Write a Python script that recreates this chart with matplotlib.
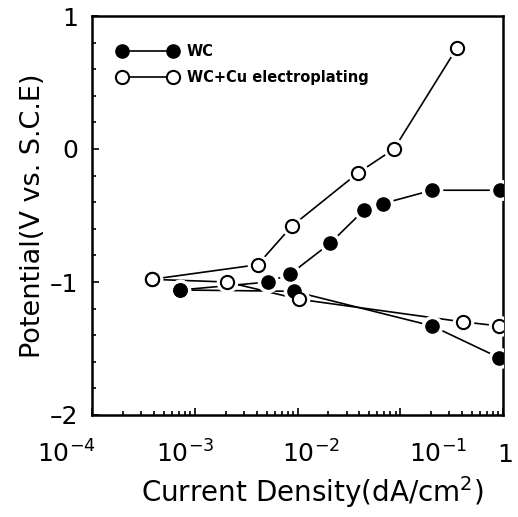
import numpy as np
import matplotlib
matplotlib.use("Agg")
import matplotlib.pyplot as plt
from matplotlib.lines import Line2D
from matplotlib.transforms import ScaledTranslation

# WC (filled circles)
wc_anodic_x = [7.2e-4, 5.2e-3, 8.5e-3, 0.0207, 0.0443, 0.068, 0.204, 0.94]
wc_anodic_y = [-1.06, -1.00, -0.94, -0.71, -0.46, -0.41, -0.31, -0.31]
wc_cathodic_x = [7.2e-4, 9.2e-3, 0.204, 0.92]
wc_cathodic_y = [-1.06, -1.07, -1.33, -1.57]

# WC+Cu electroplating (open circles)
cu_anodic_x = [3.8e-4, 4.1e-3, 8.8e-3, 0.0388, 0.0869, 0.356]
cu_anodic_y = [-0.98, -0.87, -0.58, -0.18, 0.0, 0.76]
cu_cathodic_x = [3.8e-4, 2.06e-3, 0.0104, 0.408, 0.91]
cu_cathodic_y = [-0.98, -1.00, -1.13, -1.30, -1.33]

xtick_vals = [1e-4, 1e-3, 1e-2, 1e-1, 1]
xtick_labels = ['$10^{-4}$', '$10^{-3}$', '$10^{-2}$', '$10^{-1}$', '1']
ytick_vals = [-2, -1, 0, 1]
ytick_labels = ['\u20132', '\u20131', '0', '1']

plt.rcParams['font.family'] = 'DejaVu Sans'
plt.rcParams['mathtext.fontset'] = 'dejavusans'

fig = plt.figure(figsize=(5.18, 5.17), dpi=100)
ax = fig.add_axes([92/518, 1-415/517, (503-92)/518, (415-16)/517])

lw = 1.2
ms = 9.5
series = [(wc_anodic_x, wc_anodic_y), (wc_cathodic_x, wc_cathodic_y),
          (cu_anodic_x, cu_anodic_y), (cu_cathodic_x, cu_cathodic_y)]
for xs, ys in series:
    ax.plot(xs, ys, color='black', lw=lw, zorder=2)

# white halos so lines stop short of the markers
for xs, ys in series:
    ax.plot(xs, ys, ls='none', marker='o', ms=ms+6, mfc='white', mec='none', zorder=3)

ax.plot(wc_anodic_x + wc_cathodic_x, wc_anodic_y + wc_cathodic_y, ls='none',
        marker='o', ms=ms, mfc='black', mec='black', zorder=4)
ax.plot(cu_anodic_x + cu_cathodic_x, cu_anodic_y + cu_cathodic_y, ls='none',
        marker='o', ms=ms, mfc='white', mec='black', mew=1.5, zorder=4)

ax.set_xscale('log')
ax.set_xlim(1e-4, 1)
ax.set_ylim(-2, 1)

ax.set_xticks(xtick_vals)
ax.set_xticklabels(xtick_labels)
ax.set_yticks(ytick_vals)
ax.set_yticklabels(ytick_labels)
ax.set_yticks(np.arange(-2, 1.01, 0.2), minor=True)

ax.tick_params(axis='both', which='both', direction='in', top=False, right=False,
               labelsize=18, width=1.2)
ax.tick_params(axis='x', which='major', length=5, pad=18)
ax.tick_params(axis='x', which='minor', length=3)
ax.tick_params(axis='y', which='major', length=5, pad=10)
ax.tick_params(axis='y', which='minor', length=3)
for s in ax.spines.values():
    s.set_linewidth(1.8)

# tick labels in the scan sit a little off their ticks
shifts = [(-26, 0), (-10, 0), (14, 0), (38, 0), (2, -3)]
for lab, (dx, dy) in zip(ax.get_xticklabels(), shifts):
    lab.set_transform(lab.get_transform() + ScaledTranslation(dx/100, dy/100, fig.dpi_scale_trans))

ax.set_xlabel('Current Density(dA/cm$^2$)', fontsize=20)
ax.set_ylabel('Potential(V vs. S.C.E)', fontsize=19.5)
ax.xaxis.set_label_coords((312-92)/411, -0.148)
ax.yaxis.set_label_coords(-0.112, 0.5)

handles = [
    Line2D([], [], color='black', lw=lw, marker='o', ms=ms, mfc='black', mec='black'),
    Line2D([], [], color='black', lw=lw, marker='o', ms=ms, mfc='white', mec='black', mew=1.5),
]
ax.legend(handles, ['WC', 'WC+Cu electroplating'], loc='upper left', numpoints=2,
          frameon=False, prop={'size': 10.5, 'weight': 'bold'}, handlelength=4.1,
          handletextpad=0.66, labelspacing=0.75, borderpad=0, borderaxespad=0,
          bbox_to_anchor=(0.062, 0.93))

fig.savefig('out.png', dpi=100)
